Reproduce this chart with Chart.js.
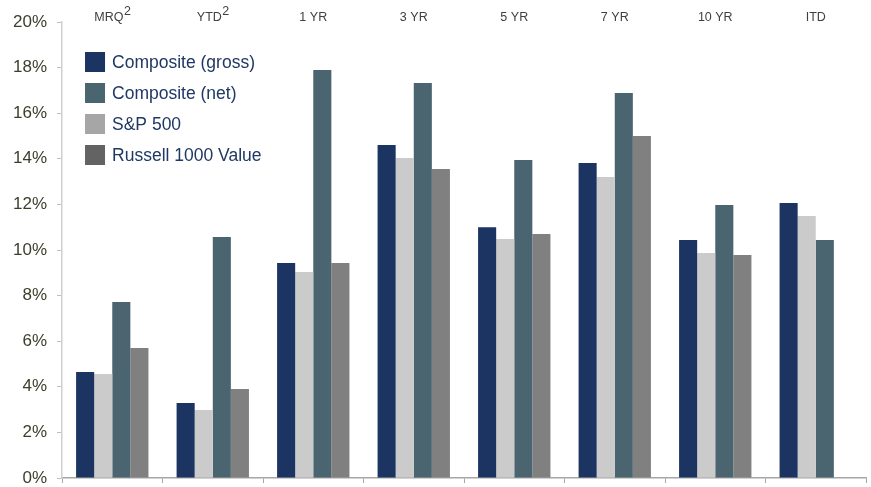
<!DOCTYPE html>
<html>
<head>
<meta charset="utf-8">
<script src="https://cdn.jsdelivr.net/npm/chart.js@4.4.1/dist/chart.umd.min.js"></script>
<style>
  html, body { margin: 0; padding: 0; background: #ffffff; }
  #wrap { width: 871px; height: 487px; position: relative; }
</style>
</head>
<body>
<div id="wrap"><canvas id="c"></canvas></div>
<script>
// ---- data ----
const categories   = ['MRQ', 'YTD', '1 YR', '3 YR', '5 YR', '7 YR', '10 YR', 'ITD'];
const superscripts = ['2', '2', '', '', '', '', '', ''];
const gross   = [4.65, 3.29, 9.43, 14.60, 11.00, 13.82, 10.44, 12.06];
const sp500   = [4.56, 2.98, 9.04, 14.04, 10.48, 13.20, 9.87, 11.49];
const net     = [7.72, 10.57, 17.89, 17.32, 13.95, 16.89, 11.97, 10.44];
const russell = [5.70, 3.90, 9.43, 13.55, 10.70, 15.00, 9.78, null];
const seriesLabels = ['Composite (gross)', 'S&P 500', 'Composite (net)', 'Russell 1000 Value'];
const legendOrder  = [0, 2, 1, 3];
const yMin = 0, yMax = 20, yStep = 2;

// ---- styles ----
const barColors    = ['#1b3461', '#cbcbcb', '#4b6570', '#808080'];
const legendColors = ['#1b3461', '#a6a6a6', '#4b6570', '#636363'];
const FONT = '"Liberation Sans", Arial, sans-serif';

const topLabels = {
  id: 'topLabels',
  afterDraw(chart) {
    const ctx = chart.ctx, xs = chart.scales.x, top = chart.chartArea.top;
    ctx.save();
    ctx.fillStyle = '#404040';
    ctx.textBaseline = 'alphabetic';
    categories.forEach((c, i) => {
      const cx = xs.getPixelForValue(i);
      ctx.font = '12.5px ' + FONT;
      const w1 = ctx.measureText(c).width;
      const sup = superscripts[i];
      const w2 = sup ? ctx.measureText(sup).width : 0;
      const x0 = cx - (w1 + w2) / 2;
      ctx.textAlign = 'left';
      ctx.fillText(c, x0, top - 1);
      if (sup) ctx.fillText(sup, x0 + w1 + 0.5, top - 7);
    });
    ctx.restore();
  }
};

const innerLegend = {
  id: 'innerLegend',
  afterDraw(chart) {
    const ctx = chart.ctx, a = chart.chartArea;
    const x = a.left + 23, y0 = a.top + 30, step = 31, box = 20;
    ctx.save();
    ctx.font = '17.5px ' + FONT;
    ctx.textBaseline = 'middle';
    ctx.textAlign = 'left';
    legendOrder.forEach((di, k) => {
      const y = y0 + k * step;
      ctx.fillStyle = legendColors[di];
      ctx.fillRect(x, y, box, box);
      ctx.fillStyle = '#1f3864';
      ctx.fillText(chart.data.datasets[di].label, x + box + 7, y + box / 2 + 1);
    });
    ctx.restore();
  }
};

const datasets = [gross, sp500, net, russell].map((d, i) => ({
  label: seriesLabels[i],
  data: d,
  backgroundColor: barColors[i],
  borderWidth: 0,
  barPercentage: 1.0,
  categoryPercentage: 0.72
}));

new Chart(document.getElementById('c'), {
  type: 'bar',
  data: { labels: categories, datasets },
  options: {
    responsive: true,
    maintainAspectRatio: false,
    animation: false,
    layout: { padding: { top: 22, right: 5, bottom: 3, left: 3 } },
    plugins: { legend: { display: false }, tooltip: { enabled: false } },
    scales: {
      x: {
        position: 'bottom',
        afterFit: s => { s.height = 6; s.paddingLeft = 0; s.paddingRight = 0; },
        grid: { display: true, drawOnChartArea: false, offset: true, tickLength: 5, color: '#a6a6a6', lineWidth: 1 },
        border: { display: true, color: '#a6a6a6', width: 1.5 },
        ticks: { display: false }
      },
      y: {
        min: yMin, max: yMax,
        afterFit: s => { s.paddingBottom = 0; s.paddingTop = 0; },
        grid: { display: true, drawOnChartArea: false, tickLength: 5, color: '#bfbfbf' },
        border: { display: true, color: '#d0d0d0', width: 1.5 },
        ticks: {
          stepSize: yStep,
          padding: 10,
          color: '#3d3d2b',
          font: { family: FONT, size: 17 },
          callback: v => v + '%'
        }
      }
    }
  },
  plugins: [topLabels, innerLegend]
});
</script>
</body>
</html>
